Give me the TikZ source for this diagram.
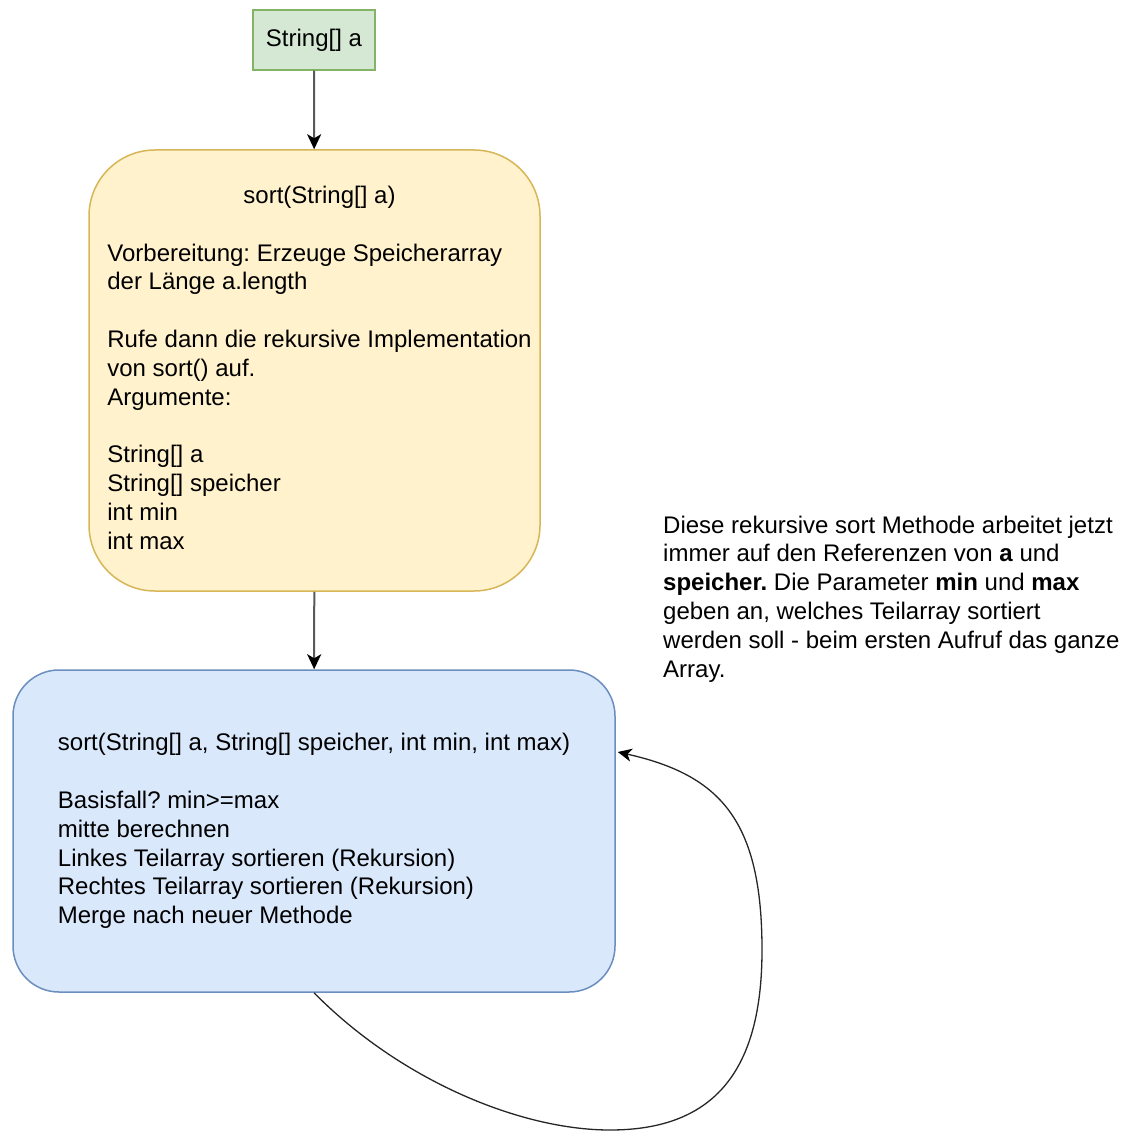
\documentclass[tikz,border=0pt]{standalone}
\usepackage{fontspec}
\setmainfont{Liberation Sans}
\frenchspacing
\usetikzlibrary{arrows.meta,positioning,calc}
\definecolor{gruenfill}{HTML}{D5E8D4}
\definecolor{gruenrand}{HTML}{82B366}
\definecolor{gelbfill}{HTML}{FFF2CC}
\definecolor{gelbrand}{HTML}{D6B656}
\definecolor{blaufill}{HTML}{DAE8FC}
\definecolor{blaurand}{HTML}{6C8EBF}

\begin{document}
\begin{tikzpicture}[x=1pt,y=-1pt,
  every node/.style={font=\fontsize{24}{28.8}\selectfont,inner sep=0pt},
  kasten/.style={draw,line width=1.5pt},
  pfeil/.style={draw=black!65,line width=2pt,-{Stealth[length=15pt,width=14pt,inset=4pt,color=black]}},
  rueck/.style={draw=black!85,line width=1.3pt,-{Stealth[length=14pt,width=13pt,inset=4pt,color=black]}}]
  \useasboundingbox (0,0) rectangle (1125,1131); % 余白込みの画面サイズ

  \node[kasten,fill=gruenfill,draw=gruenrand,minimum width=122pt,minimum height=60pt]
    (param) at (314,40) {String[] a}; % 入力の配列

  % 呼び出し用のラッパー（1行目だけ中央揃え、本文は少し右寄せ）
  \node[kasten,fill=gelbfill,draw=gelbrand,rounded corners=66pt,
    minimum width=451pt,minimum height=441pt]
    (wrapper) at (314.5,370.5) {\begin{tabular}{@{\hspace{10pt}}l@{}}
    \multicolumn{1}{@{\hspace{10pt}}c@{}}{sort(String[] a)}\\ \\
    Vorbereitung: Erzeuge Speicherarray\\
    der Länge a.length\\ \\
    Rufe dann die rekursive Implementation\\
    von sort() auf.\\
    Argumente:\\ \\
    String[] a\\
    String[] speicher\\
    int min\\
    int max
    \end{tabular}};

  % 再帰的な本体
  \node[kasten,fill=blaufill,draw=blaurand,rounded corners=46pt,
    minimum width=602pt,minimum height=322pt,align=left]
    (rekursion) at (314,831) {sort(String[] a, String[] speicher, int min, int max)\\[28.8pt]
    Basisfall? min>=max\\
    mitte berechnen\\
    Linkes Teilarray sortieren (Rekursion)\\
    Rechtes Teilarray sortieren (Rekursion)\\
    Merge nach neuer Methode};

  % 右側の説明文
  \node[anchor=north west,align=left] (hinweis) at (663,515.5)
    {Diese rekursive sort Methode arbeitet jetzt\\
    immer auf den Referenzen von \textbf{a} und\\
    \textbf{speicher.} Die Parameter \textbf{min} und \textbf{max}\\
    geben an, welches Teilarray sortiert\\
    werden soll - beim ersten Aufruf das ganze\\
    Array.};

  \draw[pfeil] (param) -- (wrapper); % 配列を渡す
  \draw[pfeil] (wrapper) -- (rekursion); % 再帰版を呼ぶ

  \coordinate (einstieg) at ($(rekursion.east)+(2,-79)$); % ループの戻り先
  % 自分自身への再帰呼び出し
  \draw[rueck] (rekursion.south) .. controls (400,1080) and (520,1130) .. (610,1130)
    .. controls (715,1130) and (762,1070) .. (762,950)
    .. controls (762,820) and (720,775) .. (einstieg);
\end{tikzpicture}
\end{document}
